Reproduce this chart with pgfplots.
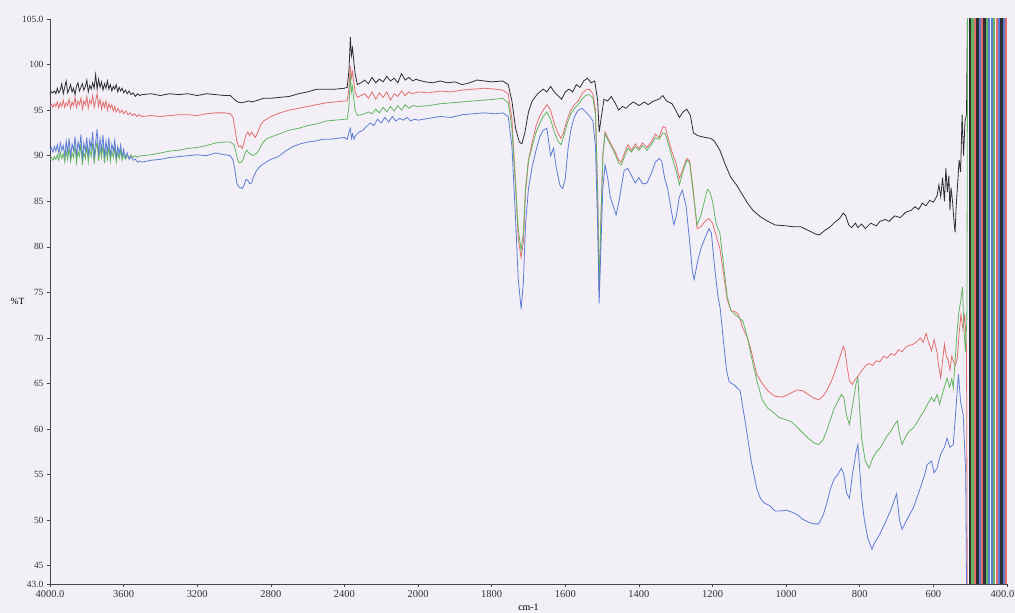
\documentclass[border=0pt]{standalone}
\usepackage{pgfplots}
\pgfplotsset{compat=1.18}
\usepackage{pgfplotstable}
\usepackage{fontspec}
\setmainfont{Liberation Serif}
\definecolor{bgc}{RGB}{243,239,246}
\definecolor{axc}{RGB}{70,70,78}
\definecolor{ftblack}{RGB}{45,45,50}
\definecolor{ftred}{RGB}{226,110,110}
\definecolor{ftgreen}{RGB}{98,182,98}
\definecolor{ftblue}{RGB}{92,124,212}

\pgfplotstableread[row sep=\\]{x y\\
4000 96.8\\ 3992 97.0\\ 3984 96.9\\ 3976 97.1\\ 3968 96.8\\ 3960 97.4\\ 3952 96.9\\ 3944 97.2\\ 3936 97.9\\ 3928 96.8\\
3920 97.5\\ 3912 98.2\\ 3904 96.9\\ 3896 97.3\\ 3888 97.8\\ 3880 97.0\\ 3872 97.4\\ 3864 96.7\\ 3856 97.6\\ 3848 98.0\\
3840 97.1\\ 3832 97.5\\ 3824 97.9\\ 3816 97.2\\ 3808 97.6\\ 3800 98.3\\ 3792 97.0\\ 3784 97.7\\ 3776 97.3\\ 3768 98.0\\
3760 97.4\\ 3752 98.9\\ 3744 97.3\\ 3736 98.4\\ 3728 97.5\\ 3720 98.1\\ 3712 97.2\\ 3704 97.9\\ 3696 97.4\\ 3688 98.2\\
3680 97.3\\ 3672 97.8\\ 3664 97.1\\ 3656 97.6\\ 3648 97.3\\ 3640 97.8\\ 3632 97.0\\ 3624 97.5\\ 3616 97.1\\ 3608 97.4\\
3600 96.9\\ 3590 97.2\\ 3580 96.8\\ 3570 97.1\\ 3560 96.7\\ 3548 96.9\\ 3536 96.5\\ 3524 96.8\\ 3512 96.6\\ 3500 96.7\\
3450 96.8\\ 3400 96.6\\ 3350 96.8\\ 3300 96.7\\ 3250 96.8\\ 3200 96.6\\ 3150 96.8\\ 3100 96.7\\ 3050 96.6\\
3020 96.6\\ 3000 96.2\\ 2980 95.9\\ 2960 95.8\\ 2940 95.9\\ 2920 96.0\\ 2900 95.9\\ 2870 96.1\\ 2840 96.3\\ 2800 96.3\\
2750 96.4\\ 2700 96.5\\ 2650 96.8\\ 2600 97.0\\ 2550 97.3\\ 2500 97.3\\ 2450 97.3\\ 2400 97.4\\ 2385 97.5\\ 2375 99.5\\
2368 103.0\\ 2362 101.0\\ 2356 101.8\\ 2350 100.5\\ 2342 99.0\\ 2330 97.8\\ 2310 98.0\\ 2290 98.3\\ 2270 97.9\\ 2250 98.6\\
2230 98.0\\ 2210 98.4\\ 2190 98.1\\ 2170 98.7\\ 2150 98.2\\ 2130 98.5\\ 2110 98.0\\ 2090 99.0\\ 2070 98.3\\ 2050 98.6\\
2030 98.2\\ 2010 98.4\\ 2000 98.3\\ 1980 98.1\\ 1960 98.0\\ 1940 98.2\\ 1920 98.0\\ 1900 98.1\\ 1880 97.8\\ 1860 98.0\\
1840 98.3\\ 1800 98.1\\ 1770 98.2\\ 1755 97.8\\ 1745 96.0\\ 1735 93.0\\ 1725 91.5\\ 1718 91.3\\ 1710 92.5\\ 1700 94.8\\
1690 96.0\\ 1675 96.8\\ 1660 97.3\\ 1650 97.0\\ 1640 97.6\\ 1630 97.0\\ 1620 96.6\\ 1610 96.2\\ 1600 97.0\\ 1590 97.3\\
1580 97.0\\ 1570 97.8\\ 1560 97.5\\ 1550 98.2\\ 1540 98.5\\ 1530 98.0\\ 1520 98.2\\ 1512 96.0\\ 1508 92.6\\ 1503 94.0\\
1495 96.2\\ 1485 96.0\\ 1475 96.5\\ 1465 95.8\\ 1455 95.0\\ 1445 95.4\\ 1435 95.2\\ 1425 95.6\\ 1415 95.9\\ 1400 95.5\\
1385 95.9\\ 1375 95.6\\ 1360 96.0\\ 1345 96.2\\ 1335 96.6\\ 1325 96.0\\ 1310 95.7\\ 1300 95.0\\ 1290 94.2\\ 1280 94.8\\
1270 95.1\\ 1260 94.4\\ 1252 92.5\\ 1240 92.2\\ 1220 92.0\\ 1205 91.9\\ 1195 91.6\\ 1180 90.6\\ 1165 89.0\\ 1150 87.6\\
1135 86.8\\ 1120 85.8\\ 1105 84.8\\ 1090 84.0\\ 1070 83.3\\ 1050 82.8\\ 1030 82.4\\ 1000 82.3\\ 980 82.2\\ 960 82.2\\
940 81.8\\ 920 81.4\\ 910 81.3\\ 895 81.8\\ 880 82.2\\ 865 82.8\\ 855 83.1\\ 845 83.7\\ 838 83.4\\ 830 82.4\\
822 82.1\\ 812 82.6\\ 805 82.1\\ 795 82.5\\ 785 82.0\\ 770 82.6\\ 755 82.3\\ 745 82.8\\ 730 83.0\\ 720 82.8\\
705 83.4\\ 690 83.2\\ 675 83.8\\ 660 84.0\\ 650 84.4\\ 640 84.1\\ 630 84.8\\ 620 84.5\\ 610 85.1\\ 600 84.9\\
590 85.6\\ 585 86.8\\ 580 85.5\\ 575 87.6\\ 570 85.0\\ 566 88.6\\ 562 86.0\\ 558 87.8\\ 555 84.0\\ 552 86.5\\
548 85.0\\ 544 82.8\\ 541 81.6\\ 538 84.5\\ 534 87.0\\ 530 89.5\\ 526 88.2\\ 522 94.5\\ 518 90.0\\ 514 93.8\\
510 94.5\\ 504 120\\
}\blackdata

\pgfplotstableread[row sep=\\]{x y\\
4000 95.4\\ 3992 95.6\\ 3984 95.3\\ 3976 95.7\\ 3968 95.4\\ 3960 95.9\\ 3952 95.2\\ 3944 95.8\\ 3936 95.4\\ 3928 96.1\\
3920 95.3\\ 3912 95.8\\ 3904 95.5\\ 3896 96.2\\ 3888 95.2\\ 3880 95.9\\ 3872 95.5\\ 3864 96.4\\ 3856 95.3\\ 3848 96.0\\
3840 95.6\\ 3832 96.3\\ 3824 95.1\\ 3816 96.0\\ 3808 95.6\\ 3800 96.5\\ 3792 95.2\\ 3784 96.1\\ 3776 95.7\\ 3768 96.6\\
3760 95.3\\ 3752 96.0\\ 3744 96.8\\ 3736 95.4\\ 3728 96.2\\ 3720 95.1\\ 3712 95.9\\ 3704 95.3\\ 3696 96.0\\ 3688 95.0\\
3680 95.7\\ 3672 95.2\\ 3664 95.6\\ 3656 94.9\\ 3648 95.4\\ 3640 94.8\\ 3630 95.2\\ 3620 94.7\\ 3610 95.0\\ 3600 94.6\\
3588 94.9\\ 3576 94.5\\ 3564 94.7\\ 3552 94.4\\ 3540 94.6\\ 3528 94.3\\ 3516 94.5\\ 3500 94.3\\
3450 94.4\\ 3400 94.3\\ 3350 94.4\\ 3300 94.5\\ 3250 94.5\\ 3200 94.4\\ 3150 94.6\\ 3100 94.7\\
3050 94.7\\ 3020 94.6\\ 3005 94.2\\ 2995 93.0\\ 2985 91.6\\ 2975 91.0\\ 2965 91.1\\ 2955 90.8\\ 2945 91.5\\ 2935 92.3\\
2925 92.6\\ 2915 92.2\\ 2905 92.6\\ 2895 92.3\\ 2885 92.0\\ 2870 92.6\\ 2855 93.4\\ 2840 93.8\\ 2800 94.3\\ 2750 94.7\\
2700 95.0\\ 2650 95.2\\ 2600 95.4\\ 2550 95.6\\ 2500 95.8\\ 2450 95.9\\ 2400 96.0\\ 2385 96.0\\ 2375 97.5\\ 2368 99.8\\
2362 98.6\\ 2356 99.2\\ 2350 98.2\\ 2342 97.0\\ 2330 96.4\\ 2310 96.6\\ 2290 96.8\\ 2270 96.3\\ 2250 97.0\\ 2230 96.2\\
2210 96.9\\ 2190 96.4\\ 2170 97.0\\ 2150 96.1\\ 2130 96.8\\ 2110 96.5\\ 2090 97.1\\ 2070 96.6\\ 2050 97.0\\ 2030 96.8\\
2000 97.0\\ 1970 96.9\\ 1940 97.1\\ 1910 97.0\\ 1880 97.2\\ 1850 97.3\\ 1820 97.4\\ 1790 97.3\\ 1770 97.2\\ 1755 96.8\\
1745 94.0\\ 1735 87.0\\ 1728 81.0\\ 1720 78.8\\ 1714 80.5\\ 1708 86.0\\ 1700 89.5\\ 1690 91.5\\ 1680 93.2\\ 1670 94.3\\
1660 95.0\\ 1650 95.6\\ 1640 95.0\\ 1630 93.5\\ 1620 92.5\\ 1612 91.9\\ 1605 92.5\\ 1595 94.0\\ 1585 95.0\\ 1575 95.6\\
1565 96.0\\ 1555 96.8\\ 1545 97.2\\ 1535 97.3\\ 1525 96.8\\ 1518 95.0\\ 1512 86.0\\ 1508 75.0\\ 1504 82.0\\ 1498 90.0\\
1492 92.6\\ 1485 92.0\\ 1475 91.2\\ 1465 90.5\\ 1455 89.5\\ 1448 89.3\\ 1440 90.2\\ 1430 91.2\\ 1420 90.6\\ 1410 91.3\\
1400 90.8\\ 1390 91.4\\ 1378 90.9\\ 1365 91.6\\ 1355 92.4\\ 1345 92.0\\ 1335 93.2\\ 1328 93.1\\ 1318 91.5\\ 1310 90.4\\
1300 89.3\\ 1290 87.5\\ 1280 88.6\\ 1270 89.7\\ 1262 89.4\\ 1252 86.0\\ 1242 82.0\\ 1232 82.2\\ 1220 82.8\\ 1210 83.1\\
1200 82.6\\ 1190 81.2\\ 1180 79.8\\ 1170 77.0\\ 1160 74.2\\ 1150 73.0\\ 1140 72.9\\ 1130 72.6\\ 1117 71.0\\ 1105 70.0\\
1095 68.6\\ 1080 66.0\\ 1065 65.0\\ 1050 64.2\\ 1030 63.6\\ 1010 63.5\\ 990 63.9\\ 970 64.3\\ 955 64.2\\ 940 63.8\\
925 63.4\\ 912 63.2\\ 900 63.6\\ 890 64.2\\ 880 65.0\\ 870 66.0\\ 860 67.2\\ 850 68.4\\ 845 69.1\\ 840 68.6\\
835 67.0\\ 828 65.3\\ 820 64.9\\ 815 65.3\\ 805 65.8\\ 795 66.4\\ 785 66.9\\ 775 67.2\\ 765 67.0\\ 755 67.5\\
745 67.4\\ 735 68.0\\ 725 67.8\\ 715 68.3\\ 705 68.1\\ 695 68.7\\ 685 68.5\\ 675 69.0\\ 665 69.2\\ 655 69.3\\
645 69.6\\ 635 70.0\\ 628 69.5\\ 620 70.5\\ 612 69.4\\ 605 68.6\\ 598 69.8\\ 590 68.4\\ 586 67.0\\ 580 65.6\\
575 67.5\\ 570 69.3\\ 565 68.0\\ 560 67.6\\ 555 66.5\\ 550 68.0\\ 545 67.4\\ 540 67.0\\ 535 67.8\\ 530 70.5\\
525 72.6\\ 520 71.0\\ 515 72.6\\ 510 69.0\\ 507 30\\
}\reddata

\pgfplotstableread[row sep=\\]{x y\\
4000 89.6\\ 3992 89.8\\ 3984 89.5\\ 3976 89.9\\ 3968 89.6\\ 3960 90.1\\ 3952 89.5\\ 3944 90.4\\ 3936 89.7\\ 3928 90.2\\
3920 89.3\\ 3912 90.6\\ 3904 89.6\\ 3896 90.9\\ 3888 89.4\\ 3880 90.3\\ 3872 89.8\\ 3864 91.1\\ 3856 89.2\\ 3848 90.5\\
3840 89.9\\ 3832 91.3\\ 3824 89.0\\ 3816 90.4\\ 3808 89.7\\ 3800 91.0\\ 3792 89.3\\ 3784 90.8\\ 3776 89.9\\ 3768 91.4\\
3760 89.1\\ 3752 90.6\\ 3744 91.6\\ 3736 89.4\\ 3728 90.9\\ 3720 89.8\\ 3712 91.2\\ 3704 89.2\\ 3696 90.7\\ 3688 89.6\\
3680 91.0\\ 3672 89.4\\ 3664 90.5\\ 3656 89.8\\ 3648 90.9\\ 3640 89.3\\ 3632 90.4\\ 3624 89.7\\ 3616 90.6\\ 3608 89.5\\
3600 90.2\\ 3590 89.6\\ 3580 90.0\\ 3570 89.7\\ 3560 90.1\\ 3548 89.8\\ 3536 90.0\\ 3524 89.8\\ 3512 90.0\\ 3500 90.0\\
3450 90.1\\ 3400 90.3\\ 3350 90.5\\ 3300 90.6\\ 3250 90.8\\ 3200 90.9\\ 3150 91.1\\
3100 91.4\\ 3050 91.5\\ 3020 91.5\\ 3000 91.2\\ 2990 90.4\\ 2980 89.5\\ 2970 89.2\\ 2960 89.3\\ 2950 89.6\\ 2940 90.3\\
2930 90.6\\ 2920 90.3\\ 2910 90.2\\ 2900 90.0\\ 2890 90.1\\ 2875 90.3\\ 2860 90.8\\ 2845 91.4\\ 2820 91.9\\ 2780 92.2\\
2740 92.5\\ 2700 92.8\\ 2650 93.0\\ 2600 93.3\\ 2550 93.5\\ 2500 93.8\\ 2450 93.9\\ 2400 94.0\\ 2385 94.0\\ 2375 95.5\\
2368 98.9\\ 2362 97.0\\ 2356 97.6\\ 2350 96.3\\ 2342 95.0\\ 2330 94.4\\ 2310 94.5\\ 2290 94.6\\ 2270 94.8\\ 2250 94.6\\
2230 95.1\\ 2210 94.7\\ 2190 95.3\\ 2170 94.8\\ 2150 95.4\\ 2130 94.9\\ 2110 95.5\\ 2090 95.0\\ 2070 95.6\\ 2050 95.2\\
2030 95.5\\ 2000 95.4\\ 1970 95.5\\ 1940 95.7\\ 1910 95.8\\ 1880 95.9\\ 1850 96.0\\ 1820 96.1\\ 1790 96.2\\ 1770 96.3\\
1755 95.8\\ 1745 93.0\\ 1735 86.5\\ 1728 82.0\\ 1720 79.6\\ 1714 81.5\\ 1708 86.5\\ 1700 89.5\\ 1690 91.0\\ 1680 92.5\\
1670 93.5\\ 1660 94.3\\ 1650 94.8\\ 1640 94.0\\ 1630 92.6\\ 1620 91.6\\ 1612 91.2\\ 1605 92.0\\ 1595 93.5\\ 1585 94.6\\
1575 95.2\\ 1565 95.6\\ 1555 96.2\\ 1545 96.6\\ 1535 96.7\\ 1525 96.3\\ 1518 94.5\\ 1512 85.5\\ 1508 75.2\\ 1504 82.0\\
1498 90.0\\ 1492 92.4\\ 1485 91.8\\ 1475 91.0\\ 1465 90.2\\ 1455 89.2\\ 1448 89.0\\ 1440 89.8\\ 1430 90.8\\ 1420 90.4\\
1410 91.0\\ 1400 90.6\\ 1390 91.1\\ 1378 90.6\\ 1365 91.3\\ 1355 92.0\\ 1345 91.8\\ 1335 92.5\\ 1328 92.4\\ 1318 91.0\\
1310 89.8\\ 1300 88.5\\ 1290 86.8\\ 1280 88.3\\ 1270 89.5\\ 1262 89.2\\ 1252 85.8\\ 1242 82.4\\ 1232 83.4\\ 1222 85.0\\
1214 86.3\\ 1207 86.0\\ 1200 85.0\\ 1190 82.5\\ 1180 81.5\\ 1170 78.0\\ 1160 74.5\\ 1150 73.0\\ 1140 72.6\\ 1130 72.3\\
1117 71.8\\ 1105 70.0\\ 1092 67.5\\ 1079 65.2\\ 1065 63.2\\ 1050 62.3\\ 1040 62.0\\ 1020 61.3\\ 1000 61.0\\ 985 60.8\\
970 60.2\\ 955 59.6\\ 940 59.0\\ 925 58.5\\ 912 58.3\\ 900 58.8\\ 890 59.8\\ 880 61.0\\ 870 62.2\\ 860 63.0\\
850 63.8\\ 843 63.4\\ 836 61.5\\ 828 60.5\\ 820 62.5\\ 810 65.0\\ 805 65.6\\ 800 62.0\\ 795 59.0\\ 785 56.5\\
775 55.7\\ 765 56.8\\ 755 57.5\\ 745 57.9\\ 735 58.6\\ 725 59.3\\ 715 59.8\\ 705 60.5\\ 698 60.9\\ 692 59.4\\
685 58.3\\ 675 59.2\\ 665 59.8\\ 655 60.1\\ 645 60.7\\ 635 61.4\\ 625 62.0\\ 615 62.8\\ 605 63.5\\ 598 63.0\\
590 63.8\\ 583 62.7\\ 576 63.8\\ 570 64.6\\ 563 65.6\\ 556 64.6\\ 550 65.5\\ 546 64.5\\ 541 67.5\\ 536 70.5\\
531 72.8\\ 526 74.0\\ 521 75.6\\ 517 71.0\\ 513 68.5\\ 509 72.0\\ 506 120\\
}\greendata

\pgfplotstableread[row sep=\\]{x y\\
4000 90.6\\ 3992 90.9\\ 3984 90.4\\ 3976 91.0\\ 3968 90.5\\ 3960 91.2\\ 3952 90.3\\ 3944 91.4\\ 3936 90.6\\ 3928 91.1\\
3920 90.0\\ 3912 91.6\\ 3904 90.4\\ 3896 91.9\\ 3888 89.8\\ 3880 91.3\\ 3872 90.6\\ 3864 92.1\\ 3856 89.9\\ 3848 91.5\\
3840 90.7\\ 3832 92.3\\ 3824 89.6\\ 3816 91.4\\ 3808 90.5\\ 3800 92.0\\ 3792 89.9\\ 3784 91.7\\ 3776 90.8\\ 3768 92.6\\
3760 89.7\\ 3752 91.5\\ 3744 92.9\\ 3736 90.0\\ 3728 91.9\\ 3720 90.6\\ 3712 92.3\\ 3704 89.8\\ 3696 91.6\\ 3688 90.4\\
3680 92.0\\ 3672 89.9\\ 3664 91.3\\ 3656 90.5\\ 3648 91.7\\ 3640 89.8\\ 3632 91.0\\ 3624 90.2\\ 3616 91.2\\ 3608 89.9\\
3600 90.7\\ 3590 89.8\\ 3580 90.3\\ 3570 89.6\\ 3560 89.9\\ 3548 89.5\\ 3536 89.6\\ 3524 89.3\\ 3512 89.4\\ 3500 89.3\\
3450 89.5\\ 3400 89.6\\ 3350 89.8\\ 3300 89.9\\ 3250 90.0\\ 3200 90.1\\ 3150 90.0\\
3100 90.3\\ 3050 90.1\\ 3020 90.0\\ 3005 89.5\\ 2995 88.4\\ 2985 87.0\\ 2975 86.6\\ 2965 86.5\\ 2955 86.4\\ 2945 86.8\\
2935 87.4\\ 2925 87.3\\ 2915 86.9\\ 2905 87.0\\ 2895 87.6\\ 2880 88.3\\ 2860 88.8\\ 2840 89.1\\ 2800 89.6\\ 2760 89.9\\
2720 90.5\\ 2680 91.0\\ 2640 91.3\\ 2600 91.5\\ 2560 91.6\\ 2520 91.8\\ 2480 91.8\\ 2440 91.9\\ 2400 92.0\\ 2385 91.8\\
2375 92.6\\ 2368 93.0\\ 2362 91.9\\ 2356 92.4\\ 2348 91.8\\ 2340 92.2\\ 2320 92.6\\ 2300 92.8\\ 2280 93.2\\ 2260 93.6\\
2240 93.3\\ 2220 94.0\\ 2200 93.6\\ 2180 94.2\\ 2160 93.7\\ 2140 94.3\\ 2120 93.8\\ 2100 94.1\\ 2080 93.9\\ 2060 94.2\\
2040 93.8\\ 2020 94.0\\ 2000 93.9\\ 1970 94.1\\ 1940 94.3\\ 1910 94.2\\ 1880 94.5\\ 1850 94.6\\ 1820 94.7\\ 1790 94.6\\
1770 94.7\\ 1755 94.3\\ 1745 91.0\\ 1735 83.0\\ 1728 76.5\\ 1720 73.2\\ 1714 76.0\\ 1708 82.5\\ 1700 86.4\\ 1690 88.8\\
1680 90.5\\ 1670 92.0\\ 1660 92.8\\ 1650 93.0\\ 1645 91.5\\ 1640 90.0\\ 1632 90.8\\ 1625 88.8\\ 1615 86.8\\ 1607 86.4\\
1600 87.5\\ 1592 91.0\\ 1584 93.0\\ 1575 94.3\\ 1565 95.0\\ 1555 95.2\\ 1545 94.8\\ 1535 94.4\\ 1525 93.8\\ 1518 91.0\\
1512 82.0\\ 1508 73.8\\ 1504 79.0\\ 1498 86.5\\ 1492 89.0\\ 1485 87.6\\ 1478 85.5\\ 1470 84.5\\ 1462 83.5\\ 1455 84.8\\
1448 86.5\\ 1440 88.4\\ 1430 88.6\\ 1420 87.8\\ 1410 87.0\\ 1400 87.6\\ 1390 86.9\\ 1378 87.0\\ 1365 88.2\\ 1355 89.3\\
1345 89.7\\ 1338 89.4\\ 1330 87.5\\ 1322 86.4\\ 1312 84.0\\ 1305 82.4\\ 1298 83.5\\ 1290 85.5\\ 1282 86.2\\ 1272 84.5\\
1262 80.5\\ 1255 77.4\\ 1250 76.4\\ 1240 78.5\\ 1230 80.0\\ 1220 81.0\\ 1210 82.0\\ 1203 81.5\\ 1195 78.0\\ 1185 74.5\\
1179 73.2\\ 1170 69.5\\ 1162 66.5\\ 1155 65.2\\ 1140 64.8\\ 1125 64.2\\ 1110 60.5\\ 1095 56.5\\ 1080 53.5\\ 1070 52.4\\
1060 51.9\\ 1045 51.6\\ 1030 51.0\\ 1015 51.0\\ 1000 51.1\\ 985 50.9\\ 970 50.6\\ 955 50.1\\ 940 49.8\\ 925 49.6\\
912 49.6\\ 900 50.5\\ 890 51.8\\ 880 53.4\\ 870 54.5\\ 860 55.0\\ 850 55.7\\ 843 55.0\\ 836 53.0\\ 828 52.4\\
820 55.0\\ 810 57.5\\ 805 58.3\\ 800 55.5\\ 795 52.5\\ 788 50.2\\ 778 48.0\\ 767 46.8\\ 760 47.5\\ 745 48.5\\
730 49.8\\ 715 51.2\\ 700 52.9\\ 692 50.0\\ 685 49.0\\ 675 49.8\\ 665 50.6\\ 655 51.3\\ 640 53.0\\ 625 54.8\\
617 56.1\\ 605 56.5\\ 598 55.2\\ 590 55.7\\ 580 57.3\\ 570 58.0\\ 563 59.0\\ 555 58.0\\ 546 58.3\\ 540 61.5\\
532 66.0\\ 526 63.0\\ 519 61.6\\ 512 55.0\\ 508 30\\
}\bluedata

\begin{document}
\begin{tikzpicture}
\path[use as bounding box, fill=bgc] (-50bp,-29bp) rectangle (965bp,584bp);
\begin{axis}[
  at={(0,0)}, anchor=south west,
  scale only axis, width=957bp, height=565bp,
  x dir=reverse,
  x coord trafo/.code={\pgfmathparse{#1>2000 ? 1000+#1/2 : #1}},
  x coord inv trafo/.code={\pgfmathparse{#1>2000 ? 2*(#1-1000) : #1}},
  xmin=400, xmax=4000, ymin=43, ymax=105,
  axis x line*=bottom, axis y line*=left,
  axis line style={axc, line width=0.8pt},
  xtick={4000,3600,3200,2800,2400,2000,1800,1600,1400,1200,1000,800,600,400},
  xticklabels={4000.0,3600,3200,2800,2400,2000,1800,1600,1400,1200,1000,800,600,\hspace*{-9bp}400.0},
  ytick={43,45,50,55,60,65,70,75,80,85,90,95,100,105},
  yticklabels={43.0,45,50,55,60,65,70,75,80,85,90,95,100,105.0},
  tick align=outside, major tick length=3bp,
  tick style={axc, line width=0.6pt},
  xticklabel style={font=\fontsize{10.5}{12}\selectfont, text=black!80},
  yticklabel style={font=\fontsize{9.5}{11}\selectfont, text=black!80},
  xlabel={cm-1}, ylabel={\%T},
  xlabel style={font=\fontsize{10}{12}\selectfont, at={(axis description cs:0.5,0)}, anchor=center, yshift=-23bp},
  ylabel style={font=\fontsize{9.5}{11}\selectfont, rotate=-90, at={(axis description cs:-0.034,0.5)}, anchor=center},
  clip=true,
]
\addplot[ftblack, line width=0.8pt] table {\blackdata};
\addplot[ftred, line width=0.8pt] table {\reddata};
\addplot[ftgreen, line width=0.8pt] table {\greendata};
\addplot[ftblue, line width=0.8pt] table {\bluedata};
% saturated region near 500-400 cm-1
\addplot[ftblack, line width=2.3pt] coordinates {(500,120) (500,30) (480.5,30) (480.5,120) (461,120) (461,30) (415,30) (415,120)};
\addplot[ftgreen, line width=2.3pt] coordinates {(493.5,120) (493.5,30) (454,30) (454,120) (435,120) (435,30) (406,30) (406,120)};
\addplot[ftred, line width=2.3pt] coordinates {(487,120) (487,30) (467.5,30) (467.5,120) (428,120) (428,30) (402,30) (402,120)};
\addplot[ftblue, line width=2.3pt] coordinates {(474,120) (474,30) (448,30) (448,120) (441,120) (441,30) (422,30) (422,120) (409,120) (409,30)};
\end{axis}
\end{tikzpicture}
\end{document}
